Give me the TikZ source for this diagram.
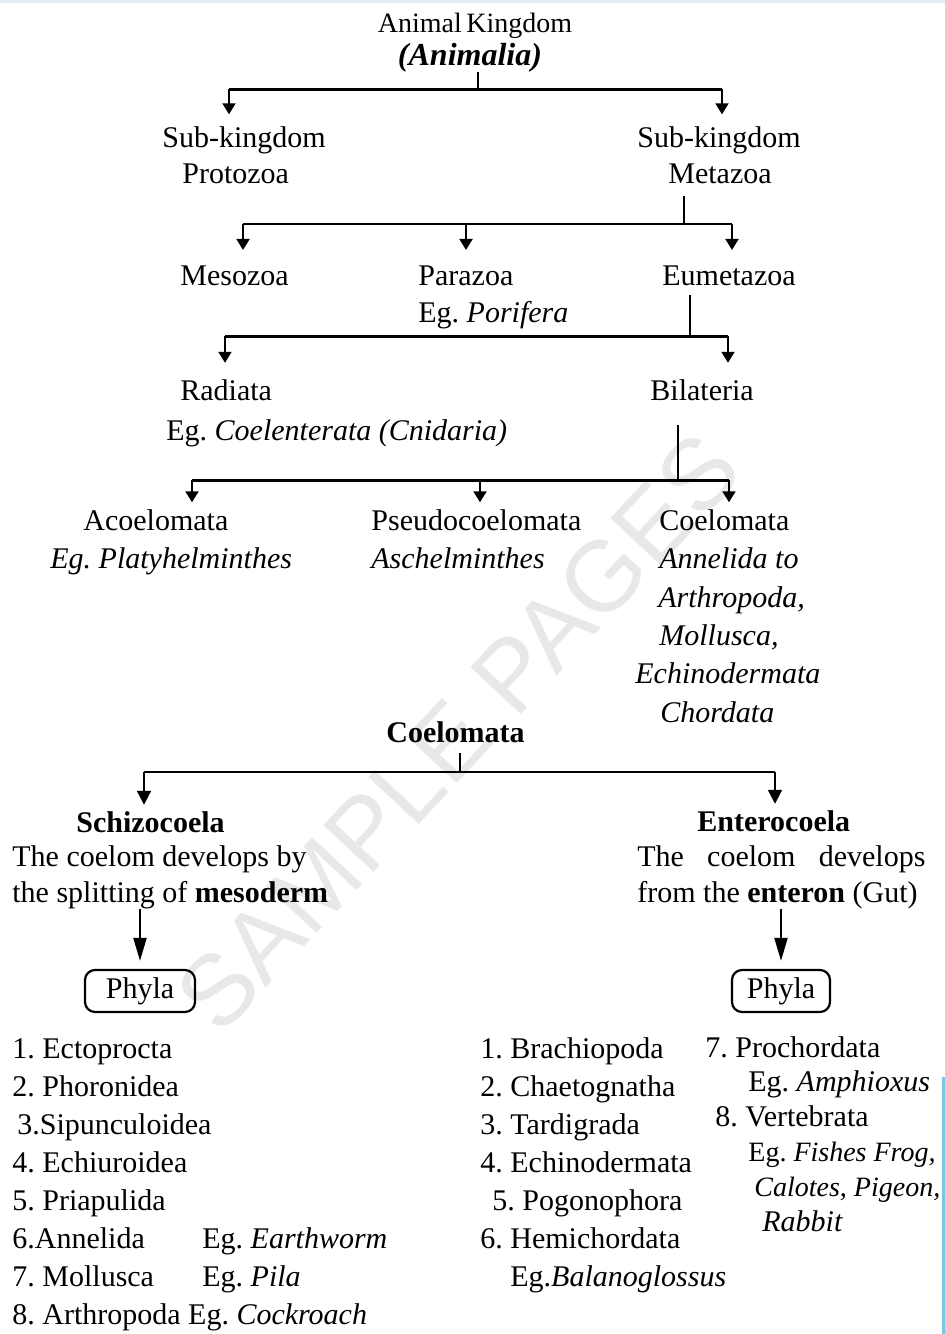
\documentclass[tikz,border=0pt]{standalone}
\usepackage{fontspec}
\setmainfont{Liberation Serif}
\newfontfamily\wmfont{Liberation Sans}
\usetikzlibrary{arrows.meta}
\definecolor{pageblue}{RGB}{120,200,225}
\definecolor{topblue}{RGB}{225,240,246}
\definecolor{wmgray}{RGB}{232,232,232}
\frenchspacing

\begin{document}
\begin{tikzpicture}
  [x=0.5pt,y=-0.5pt,
   every node/.style={inner sep=0pt},
   txt/.style={anchor=base west,font=\fontsize{15}{18}\selectfont},
   btxt/.style={txt,font=\fontsize{15}{18}\selectfont\bfseries},
   itxt/.style={txt,font=\fontsize{15}{18}\selectfont\itshape},
   link/.style={line width=1pt},
   bar/.style={line width=1.5pt},
   arr/.style={line width=1pt,-{Triangle[length=5.5pt,width=6.5pt]}},
   midarr/.style={line width=1pt,-{Triangle[length=7pt,width=7pt]}},
   bigarr/.style={line width=1pt,-{Triangle[length=11.5pt,width=6.5pt]}},
   phyla/.style={draw,line width=1.1pt,rounded corners=5pt,minimum height=21pt,
     font=\fontsize{15}{18}\selectfont}]
  \useasboundingbox (0,0) rectangle (945,1334);
  \fill[topblue] (0,0) rectangle (945,3);
  \fill[pageblue] (942,1077) rectangle (945,1334);
  \node[rotate=47,text=wmgray,font=\wmfont\fontsize{50}{50}\selectfont] (wm) at (458,732) {SAMPLE PAGES};

  \node[anchor=base,font=\fontsize{14}{17}\selectfont] (kingdom) at (475,32) {Animal\,Kingdom};
  \node[anchor=base,font=\fontsize{16}{19}\selectfont\bfseries\itshape] (animalia) at (470,65) {(Animalia)};
  \coordinate (k) at (478,89);
  \coordinate (kl) at (229,89);
  \coordinate (kr) at (722,89);
  \node[txt] (protoa) at (162,147) {Sub-kingdom};
  \node[txt] (protob) at (182,183) {Protozoa};
  \node[txt] (metaa) at (637,147) {Sub-kingdom};
  \node[txt] (metab) at (668,183) {Metazoa};
  \draw[link] (k |- animalia.south) -- (k);
  \draw[bar] (kl) -- (kr);
  \draw[arr,shorten >=5.75pt] (kl) -- (kl |- protoa.north);
  \draw[arr,shorten >=5.75pt] (kr) -- (kr |- metaa.north);

  \coordinate (m) at (684,224);
  \coordinate (ml) at (243,224);
  \coordinate (mc) at (466,224);
  \coordinate (mr) at (732,224);
  \node[txt] (meso) at (180,285) {Mesozoa};
  \node[txt] (para) at (418,285) {Parazoa};
  \node[txt] (parab) at (418,322) {Eg. \textit{Porifera}};
  \node[txt] (eumeta) at (662,285) {Eumetazoa};
  \draw[link,shorten <=6pt] (m |- metab.south) -- (m);
  \draw[link] (ml) -- (mr);
  \draw[arr,shorten >=7.5pt] (ml) -- (ml |- meso.north);
  \draw[arr,shorten >=7.5pt] (mc) -- (mc |- para.north);
  \draw[arr,shorten >=7.5pt] (mr) -- (mr |- eumeta.north);

  \coordinate (e) at (690,336);
  \coordinate (el) at (225,336);
  \coordinate (er) at (728,336);
  \node[txt] (radiata) at (180,400) {Radiata};
  \node[txt] (radiatab) at (166,440) {Eg. \textit{Coelenterata (Cnidaria)}};
  \node[txt] (bilat) at (650,400) {Bilateria};
  \draw[link,shorten <=4.5pt] (e |- eumeta.south) -- (e);
  \draw[bar] (el) -- (er);
  \draw[arr,shorten >=8pt] (el) -- (el |- radiata.north);
  \draw[arr,shorten >=8pt] (er) -- (er |- bilat.north);

  \coordinate (b) at (678,480);
  \coordinate (bl) at (192,480);
  \coordinate (bc) at (480,480);
  \coordinate (br) at (729,480);
  \node[txt] (acoel) at (83,530) {Acoelomata};
  \node[itxt] (acoelb) at (50,568) {Eg. Platyhelminthes};
  \node[txt] (pseudo) at (371,530) {Pseudocoelomata};
  \node[itxt] (pseudob) at (371,568) {Aschelminthes};
  \node[txt] (coel) at (659,530) {Coelomata};
  \foreach \x/\y/\name [count=\n] in {659/568/{Annelida to}, 658/607/{Arthropoda,},
      659/645/{Mollusca,}, 635/683/{Echinodermata}, 660/722/{Chordata}}
    \node[itxt] (coel\n) at (\x,\y) {\name};
  \draw[link,shorten <=12pt] (b |- bilat.south) -- (b);
  \draw[bar] (bl) -- (br);
  \draw[arr,shorten >=3.25pt] (bl) -- (bl |- acoel.north);
  \draw[arr,shorten >=3.25pt] (bc) -- (bc |- pseudo.north);
  \draw[arr,shorten >=3.25pt] (br) -- (br |- coel.north);

  \node[btxt] (coelom) at (386,742) {Coelomata};
  \coordinate (c) at (460,772);
  \coordinate (cl) at (144,772);
  \coordinate (cr) at (775,772);
  \node[btxt] (schizo) at (76,832) {Schizocoela};
  \node[txt] (schizob) at (12,866) {The coelom develops by};
  \node[txt] (schizoc) at (12,902) {the splitting of \textbf{mesoderm}};
  \node[btxt] (entero) at (697,831) {Enterocoela};
  \node[txt] (enterob) at (637,866) {\makebox[144pt][s]{The coelom develops}};
  \node[txt] (enteroc) at (637,902) {from the \textbf{enteron} (Gut)};
  \draw[link,shorten <=5pt] (c |- coelom.south) -- (c);
  \draw[link,line width=1.2pt] (cl) -- (cr);
  \draw[midarr,shorten >=3pt] (cl) -- (cl |- schizo.north);
  \draw[midarr,shorten >=3pt] (cr) -- (cr |- entero.north);

  \node[phyla,minimum width=55pt] (phylas) at (140,991) {Phyla};
  \node[phyla,minimum width=49pt] (phylae) at (781,991) {Phyla};
  \draw[bigarr,shorten >=4pt] (phylas.north |- schizoc.south) -- (phylas.north);
  \draw[bigarr,shorten >=4pt] (phylae.north |- enteroc.south) -- (phylae.north);

  \foreach \x/\y/\name [count=\n] in {12/1058/{1. Ectoprocta}, 12/1096/{2. Phoronidea},
      17/1134/{3.Sipunculoidea}, 12/1172/{4. Echiuroidea}, 12/1210/{5. Priapulida},
      12/1248/{6.Annelida}, 12/1286/{7. Mollusca}, 12/1324/{8. Arthropoda Eg. \textit{Cockroach}}}
    \node[txt] (sch\n) at (\x,\y) {\name};
  \node[txt] (sch6eg) at (202,1248) {Eg. \textit{Earthworm}};
  \node[txt] (sch7eg) at (202,1286) {Eg. \textit{Pila}};

  \foreach \x/\y/\name [count=\n] in {480/1058/{1. Brachiopoda}, 480/1096/{2. Chaetognatha},
      480/1134/{3. Tardigrada}, 480/1172/{4. Echinodermata}, 492/1210/{5. Pogonophora},
      480/1248/{6. Hemichordata}, 510/1286/{Eg.\textit{Balanoglossus}}}
    \node[txt] (ent\n) at (\x,\y) {\name};

  \node[txt] (pro) at (705,1057) {7. Prochordata};
  \node[txt] (proeg) at (748,1091) {Eg. \textit{Amphioxus}};
  \node[txt] (vert) at (715,1126) {8. Vertebrata};
  \node[txt,font=\fontsize{14}{17}\selectfont] (verteg) at (748,1161) {Eg. \textit{Fishes Frog,}};
  \node[itxt,font=\fontsize{14}{17}\selectfont\itshape] (vertb) at (754,1196) {Calotes, Pigeon,};
  \node[itxt] (vertc) at (762,1231) {Rabbit};
\end{tikzpicture}
\end{document}
